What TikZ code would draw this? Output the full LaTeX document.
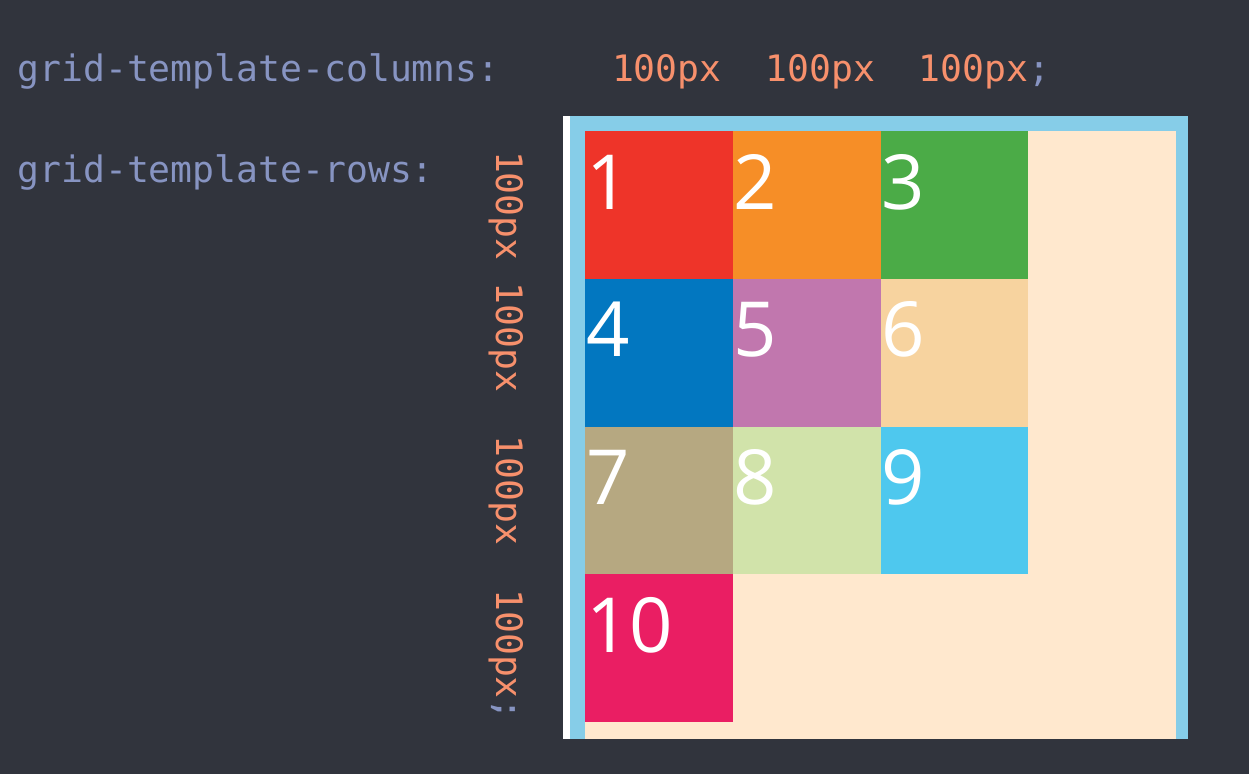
\documentclass[tikz,border=0pt]{standalone}
\usepackage{fontspec}
\newfontfamily\codefont{DejaVu Sans Mono}
\newfontfamily\numfont{Open Sans}
\definecolor{bg}{HTML}{31343D}
\definecolor{lbl}{HTML}{8794C2}
\definecolor{val}{HTML}{F7906C}
\definecolor{cream}{HTML}{FFE8CE}
\definecolor{frame}{HTML}{86CDE8}
\definecolor{cA}{HTML}{EE3429}
\definecolor{cB}{HTML}{F68E27}
\definecolor{cC}{HTML}{4BAB47}
\definecolor{cD}{HTML}{0277C0}
\definecolor{cE}{HTML}{C177AE}
\definecolor{cF}{HTML}{F7D39F}
\definecolor{cG}{HTML}{B6A881}
\definecolor{cH}{HTML}{D1E3AA}
\definecolor{cI}{HTML}{4EC8EE}
\definecolor{cJ}{HTML}{EA1E63}
\tikzset{
  code/.style={inner sep=0pt, outer sep=0pt, anchor=base west, font=\codefont\fontsize{36.4}{44}\selectfont},
  cell/.style={minimum width=147.75pt, minimum height=147.75pt, inner sep=0pt, outer sep=0pt, anchor=north west, draw=none},
  num/.style={inner sep=0pt, outer sep=0pt, anchor=base west, text=white, font=\numfont\fontsize{76}{90}\selectfont}
}
\begin{document}
\begin{tikzpicture}[x=1pt,y=-1pt]
\fill[bg] (0,0) rectangle (1249,774);
\useasboundingbox (0,0) rectangle (1249,774);
% labels
\node[code, text=lbl] (cols) at (17.5,81) {grid-template-columns:};
\node[code, text=lbl] (rows) at (17.5,182) {grid-template-rows:};
\node[code, text=val] (colv) at (612,81) {100px\ \ 100px\ \ 100px\textcolor{lbl}{;}};
\node[code, text=val, rotate=-90] (rowv) at (496,151) {100px\ 100px\ \ 100px\ \ 100px\textcolor{lbl}{;}};
% container
\fill[white] (563,116) rectangle (570,739);
\fill[frame] (570,116) rectangle (1188,739);
\fill[cream] (585,131) rectangle (1176,739);
% cells
\node[cell, fill=cA] (c1) at (585,131) {};
\node[cell, fill=cB] (c2) at (732.75,131) {};
\node[cell, fill=cC] (c3) at (880.5,131) {};
\node[cell, fill=cD] (c4) at (585,278.75) {};
\node[cell, fill=cE] (c5) at (732.75,278.75) {};
\node[cell, fill=cF] (c6) at (880.5,278.75) {};
\node[cell, fill=cG] (c7) at (585,426.5) {};
\node[cell, fill=cH] (c8) at (732.75,426.5) {};
\node[cell, fill=cI] (c9) at (880.5,426.5) {};
\node[cell, fill=cJ] (c10) at (585,574.25) {};
% numbers
\node[num] (n1) at (586,209) {1};
\node[num] (n2) at (733.75,209) {2};
\node[num] (n3) at (881.5,209) {3};
\node[num] (n4) at (586,356.75) {4};
\node[num] (n5) at (733.75,356.75) {5};
\node[num] (n6) at (881.5,356.75) {6};
\node[num] (n7) at (586,504.5) {7};
\node[num] (n8) at (733.75,504.5) {8};
\node[num] (n9) at (881.5,504.5) {9};
\node[num] (n10) at (586,652.25) {10};
\end{tikzpicture}
\end{document}
